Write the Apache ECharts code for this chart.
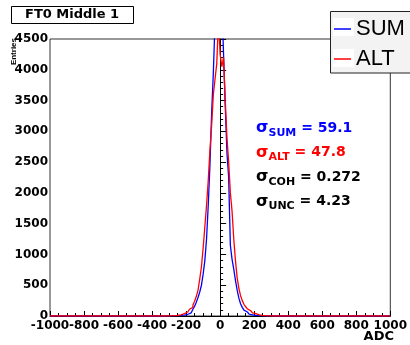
<!DOCTYPE html>
<html><head><meta charset="utf-8">
<script src="https://cdn.jsdelivr.net/npm/echarts@6/dist/echarts.min.js"></script>
<style>html,body{margin:0;padding:0;background:#fff}#c{width:410px;height:345px}</style>
</head><body><div id="c"></div>
<script>
// ---- data ----
const chartTitle = 'FT0 Middle 1';
const xTitle = 'ADC';
const yTitle = 'Entries';
const xRange = [-1000, 1000];
const yRange = [0, 4500];
const binStart = -330;   // low edge of the first listed bin
const binWidth = 10;
const seriesNames = ['SUM', 'ALT'];
const sumCounts = [0,2,3,3,4,5,6,7,8,10,12,15,20,28,38,52,75,110,160,225,300,390,500,680,900,1250,1800,2450,3300,3950,4800,5600,6000,
  5800,5100,4250,3400,2650,2250,1150,920,760,580,420,290,200,140,95,65,45,30,20,14,10,8,7,6,5,4,3,3,2,2,1,0,0];
const altCounts = [0,0,1,2,3,5,7,10,14,20,28,38,50,65,85,110,140,180,240,320,420,600,800,1100,1450,1800,2200,2700,3100,3600,3850,4100,4800,
  4250,4050,4200,3500,2900,2500,2000,1700,1250,900,620,450,330,250,190,150,115,85,65,50,38,28,20,14,9,6,4,3,2,1,0,0,0];
const sigmaNames = ['SUM', 'ALT', 'COH', 'UNC'];
const sigmaValues = ['59.1', '47.8', '0.272', '4.23'];

// ---- build ----
function steps(counts) {
  const d = [[xRange[0], 0]];
  counts.forEach((c, i) => d.push([binStart + i * binWidth, c]));
  d.push([binStart + counts.length * binWidth, 0]);
  d.push([xRange[1], 0]);
  return d;
}
const BLUE = '#0000ff', RED = '#ff0000';
const sigmaColors = [BLUE, RED, '#000', '#000'];
const F = '"DejaVu Sans", sans-serif';

const graphics = [
  { type: 'text', x: 13.5, y: 38, rotation: Math.PI / 2,
    style: { text: yTitle, font: 'bold 8px "Liberation Sans", sans-serif', fill: '#000', align: 'right', verticalAlign: 'middle' } },
  { type: 'text', x: 394, y: 337,
    style: { text: xTitle, font: 'bold 13px ' + F, fill: '#000', align: 'right', verticalAlign: 'middle' } },
  // legend frame (extends past the right edge like the reference)
  { type: 'rect', z: 3, shape: { x: 330.5, y: 11.5, width: 120, height: 61.5 },
    style: { fill: '#f3f3f3', stroke: '#222', lineWidth: 1 } },
  { type: 'rect', z: 3, shape: { x: 333, y: 18, width: 21, height: 18 }, style: { fill: '#fff' } },
  { type: 'rect', z: 3, shape: { x: 333, y: 49, width: 21, height: 18 }, style: { fill: '#fff' } }
];
sigmaNames.forEach((n, i) => {
  const col = sigmaColors[i];
  graphics.push({
    type: 'text', x: 256, y: 128 + i * 24.5, z: 10,
    style: {
      text: '{s|σ}{b|' + n + '}{v| = ' + sigmaValues[i] + '}',
      align: 'left', verticalAlign: 'middle',
      rich: {
        s: { fontFamily: F, fontWeight: 'bold', fontSize: 16, fill: col, color: col, verticalAlign: 'middle' },
        b: { fontFamily: F, fontWeight: 'bold', fontSize: 11, fill: col, color: col, verticalAlign: 'middle', padding: [10, 0, 0, 0] },
        v: { fontFamily: F, fontWeight: 'bold', fontSize: 14, fill: col, color: col, verticalAlign: 'middle' }
      }
    }
  });
});

const plain = v => String(v);
const chart = echarts.init(document.getElementById('c'), null, { renderer: 'canvas' });
chart.setOption({
  animation: false,
  backgroundColor: '#fff',
  title: {
    text: chartTitle, left: 11, top: 6, padding: [1, 15, 1, 14],
    borderColor: '#000', borderWidth: 1, backgroundColor: '#fff',
    textStyle: { fontFamily: F, fontWeight: 'bold', fontSize: 13, color: '#000', lineHeight: 16 }
  },
  legend: {
    data: seriesNames, orient: 'vertical', left: 330, top: 11, z: 4,
    padding: [7, 5, 3, 4], itemGap: 8, itemWidth: 17, itemHeight: 1.5, icon: 'rect',
    backgroundColor: 'transparent', borderWidth: 0,
    textStyle: { fontFamily: '"Liberation Sans", Arial, sans-serif', fontSize: 22, color: '#000', lineHeight: 22 }
  },
  grid: { left: 50, right: 15, top: 39, bottom: 29, show: true, borderColor: '#333', borderWidth: 1, backgroundColor: '#fff', containLabel: false },
  xAxis: {
    type: 'value', min: xRange[0], max: xRange[1], interval: 200,
    axisLine: { onZero: false, lineStyle: { color: '#000', width: 1 } },
    axisTick: { inside: true, length: 5, lineStyle: { color: '#000' } },
    minorTick: { show: true, splitNumber: 4, length: 3, lineStyle: { color: '#000' } },
    splitLine: { show: false }, minorSplitLine: { show: false },
    axisLabel: { formatter: plain, margin: 4, fontFamily: F, fontWeight: 'bold', fontSize: 12, color: '#000', showMinLabel: true, showMaxLabel: true, hideOverlap: false }
  },
  yAxis: {
    type: 'value', min: yRange[0], max: yRange[1], interval: 500,
    axisLine: { show: true, lineStyle: { color: '#000', width: 1 } },
    axisTick: { show: true, inside: true, length: 6, lineStyle: { color: '#000' } },
    minorTick: { show: true, splitNumber: 5, length: 3, lineStyle: { color: '#000' } },
    splitLine: { show: false }, minorSplitLine: { show: false },
    axisLabel: { formatter: plain, margin: 2, fontFamily: F, fontWeight: 'bold', fontSize: 12, color: '#000', showMinLabel: true, showMaxLabel: true, hideOverlap: false }
  },
  series: [
    { name: seriesNames[0], type: 'line', step: 'end', data: steps(sumCounts), symbol: 'none', showSymbol: false,
      clip: true, color: BLUE, lineStyle: { color: BLUE, width: 1.3 }, z: 2 },
    { name: seriesNames[1], type: 'line', step: 'end', data: steps(altCounts), symbol: 'none', showSymbol: false,
      clip: true, color: RED, lineStyle: { color: RED, width: 1.3 }, z: 3 }
  ],
  graphic: graphics
});
</script></body></html>
